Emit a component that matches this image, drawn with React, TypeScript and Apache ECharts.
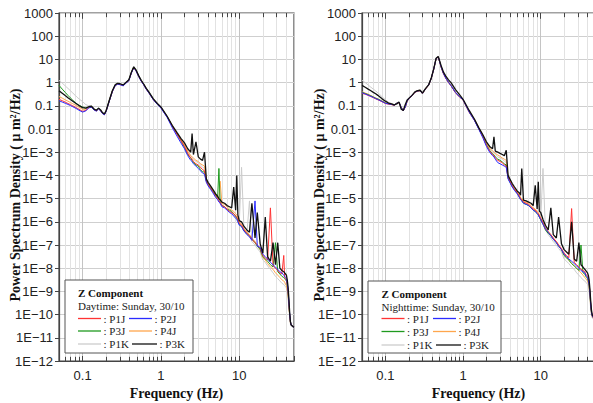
import React, { useEffect, useRef } from "react";
import * as echarts from "echarts";

// Frequencies (Hz), shared by every spectrum
const FREQ = [
  0.05, 0.055, 0.06, 0.065, 0.07, 0.075, 0.08, 0.085, 0.09, 0.1,
  0.11, 0.12, 0.13, 0.14, 0.15, 0.16, 0.17, 0.18, 0.19, 0.2,
  0.22, 0.24, 0.26, 0.28, 0.3, 0.33, 0.36, 0.39, 0.42, 0.45,
  0.48, 0.52, 0.56, 0.6, 0.65, 0.7, 0.8, 0.9, 1.0, 1.2,
  1.4, 1.6, 1.8, 2.0, 2.2, 2.4, 2.5, 2.6, 2.8, 3.0,
  3.2, 3.4, 3.6, 3.8, 4.0, 4.3, 4.6, 5.0, 5.3, 5.5,
  5.7, 6.0, 6.5, 7.0, 7.5, 8.0, 8.5, 9.0, 9.3, 9.6,
  10, 10.7, 11.5, 12.5, 13.5, 14.5, 15.9, 17, 18.5, 20,
  21.5, 23, 25, 27, 29, 31, 33, 35, 37, 38,
  39, 40, 41, 42, 43, 44, 45, 46, 48, 50,
];

// PSD values, as log10 of (um^2/Hz) -- Daytime
const DAY_P1J = [
  -0.72, -0.78, -0.84, -0.90, -0.95, -1.00, -1.05, -1.10, -1.15, -1.24,
  -1.20, -1.08, -1.05, -1.17, -1.22, -1.13, -1.21, -1.33, -1.38, -1.23,
  -0.78, -0.38, -0.13, -0.06, -0.08, -0.13, -0.01, 0.09, 0.42, 0.65,
  0.52, 0.27, 0.07, -0.08, -0.28, -0.43, -0.73, -0.93, -1.08, -1.48,
  -1.90, -2.22, -2.50, -2.75, -3.05, -3.25, -3.30, -3.40, -3.50, -3.55,
  -3.65, -3.75, -3.80, -4.25, -4.40, -4.55, -4.70, -4.90, -5.00, -5.10,
  -5.15, -5.30, -5.35, -5.45, -5.55, -5.60, -5.65, -5.75, -5.80, -5.90,
  -6.05, -6.15, -6.35, -6.50, -6.60, -6.75, -6.90, -7.00, -7.15, -7.45,
  -7.55, -7.65, -5.40, -7.90, -8.00, -8.10, -8.20, -8.25, -7.45, -8.40,
  -8.45, -8.50, -8.70, -9.00, -9.50, -10.00, -10.30, -10.45, -10.50, -10.55,
];
const DAY_P2J = [
  -0.78, -0.84, -0.89, -0.94, -0.99, -1.04, -1.09, -1.14, -1.19, -1.27,
  -1.22, -1.09, -1.06, -1.18, -1.23, -1.14, -1.22, -1.34, -1.39, -1.24,
  -0.79, -0.39, -0.14, -0.07, -0.09, -0.14, -0.02, 0.08, 0.41, 0.64,
  0.51, 0.26, 0.06, -0.09, -0.29, -0.44, -0.74, -0.94, -1.10, -1.50,
  -1.95, -2.30, -2.60, -2.85, -3.15, -3.35, -3.40, -3.50, -3.60, -3.70,
  -3.80, -3.90, -3.95, -4.30, -4.45, -4.60, -4.75, -4.95, -5.05, -5.15,
  -5.20, -5.35, -5.40, -5.50, -5.60, -5.65, -5.75, -5.85, -5.90, -6.00,
  -6.15, -6.20, -6.40, -6.55, -6.65, -6.80, -5.10, -7.05, -7.10, -7.40,
  -7.50, -7.60, -7.75, -7.85, -7.95, -8.05, -8.15, -8.20, -8.30, -8.35,
  -8.40, -8.45, -8.65, -8.95, -9.45, -9.95, -10.30, -10.45, -10.50, -10.55,
];
const DAY_P3J = [
  -0.12, -0.28, -0.42, -0.55, -0.66, -0.76, -0.85, -0.92, -0.98, -1.05,
  -1.10, -1.05, -1.03, -1.15, -1.20, -1.11, -1.19, -1.31, -1.36, -1.21,
  -0.76, -0.36, -0.11, -0.04, -0.06, -0.11, 0.01, 0.11, 0.44, 0.67,
  0.54, 0.29, 0.09, -0.06, -0.26, -0.41, -0.71, -0.91, -1.06, -1.46,
  -1.88, -2.20, -2.50, -2.80, -3.10, -3.25, -3.35, -3.45, -3.55, -3.60,
  -3.75, -3.85, -3.85, -4.25, -4.40, -4.55, -4.70, -4.85, -4.95, -3.70,
  -5.15, -5.30, -5.35, -5.45, -5.50, -5.55, -5.65, -5.75, -5.85, -5.95,
  -6.10, -6.20, -6.40, -6.50, -6.60, -6.75, -6.90, -7.05, -7.20, -7.50,
  -7.60, -7.70, -7.85, -7.95, -6.90, -8.15, -8.25, -8.35, -8.40, -8.45,
  -8.50, -8.55, -8.75, -9.05, -9.55, -10.00, -10.30, -10.45, -10.50, -10.55,
];
const DAY_P4J = [
  -0.60, -0.67, -0.74, -0.80, -0.86, -0.91, -0.96, -1.01, -1.06, -1.15,
  -1.15, -1.06, -1.04, -1.16, -1.21, -1.12, -1.20, -1.32, -1.37, -1.22,
  -0.77, -0.37, -0.12, -0.05, -0.07, -0.12, 0.00, 0.10, 0.43, 0.66,
  0.53, 0.28, 0.08, -0.07, -0.27, -0.42, -0.72, -0.92, -1.07, -1.47,
  -1.86, -2.18, -2.45, -2.68, -2.95, -3.15, -3.20, -3.25, -3.35, -3.40,
  -3.50, -3.55, -3.60, -4.20, -4.35, -4.50, -4.65, -4.85, -4.95, -5.05,
  -4.25, -5.20, -5.25, -5.35, -5.45, -5.50, -5.55, -5.65, -5.70, -5.80,
  -6.00, -6.10, -6.30, -6.45, -6.55, -6.70, -6.85, -7.00, -7.20, -7.55,
  -7.65, -7.80, -7.95, -8.05, -8.20, -8.30, -8.40, -8.50, -8.55, -8.60,
  -8.70, -8.75, -8.95, -9.20, -9.60, -10.05, -10.35, -10.45, -10.50, -10.55,
];
const DAY_P1K = [
  0.10, -0.02, -0.14, -0.25, -0.35, -0.45, -0.54, -0.63, -0.70, -0.82,
  -0.95, -1.00, -1.00, -1.13, -1.18, -1.09, -1.17, -1.29, -1.34, -1.19,
  -0.74, -0.34, -0.09, -0.02, -0.04, -0.09, 0.03, 0.13, 0.46, 0.69,
  0.56, 0.31, 0.11, -0.04, -0.24, -0.39, -0.69, -0.89, -1.04, -1.44,
  -1.87, -2.20, -2.45, -2.70, -3.00, -3.15, -3.25, -3.30, -3.40, -3.45,
  -3.55, -3.65, -3.70, -4.25, -4.40, -4.55, -4.70, -4.90, -5.00, -5.10,
  -5.15, -5.30, -5.35, -5.45, -5.55, -5.60, -5.70, -5.80, -5.85, -5.95,
  -6.10, -3.65, -6.35, -6.55, -5.10, -6.85, -7.00, -7.15, -7.30, -7.65,
  -7.75, -7.90, -8.05, -8.20, -8.35, -8.45, -8.55, -8.65, -8.70, -8.75,
  -8.80, -8.85, -9.05, -9.30, -9.70, -10.10, -10.40, -10.50, -10.55, -10.60,
];
const DAY_P3K = [
  -0.35, -0.46, -0.56, -0.65, -0.73, -0.80, -0.87, -0.93, -0.99, -1.08,
  -1.10, -1.04, -1.02, -1.14, -1.19, -1.10, -1.18, -1.30, -1.35, -1.20,
  -0.75, -0.35, -0.10, -0.03, -0.05, -0.10, 0.02, 0.12, 0.45, 0.68,
  0.55, 0.30, 0.10, -0.05, -0.25, -0.40, -0.70, -0.90, -1.05, -1.45,
  -1.85, -2.15, -2.40, -2.60, -2.85, -3.00, -2.20, -3.10, -2.55, -3.20,
  -3.30, -3.35, -3.00, -4.15, -4.30, -4.45, -4.60, -4.80, -4.90, -5.00,
  -5.05, -5.15, -5.20, -5.30, -5.35, -5.40, -4.50, -5.50, -4.00, -5.70,
  -5.95, -6.00, -6.20, -6.35, -6.45, -5.20, -6.70, -5.60, -6.95, -7.35,
  -5.80, -7.50, -7.70, -6.90, -7.85, -6.90, -8.00, -8.10, -8.15, -8.20,
  -8.25, -8.30, -8.50, -8.80, -9.30, -9.90, -10.30, -10.45, -10.50, -10.55,
];

// PSD values, as log10 of (um^2/Hz) -- Nighttime
const NIGHT_P1J = [
  -0.46, -0.50, -0.55, -0.60, -0.65, -0.70, -0.74, -0.78, -0.82, -0.90,
  -0.93, -0.95, -0.98, -0.90, -0.86, -1.08, -1.22, -1.07, -0.82, -0.70,
  -0.57, -0.42, -0.37, -0.35, -0.47, -0.27, -0.12, 0.18, 0.58, 1.03,
  1.10, 0.68, 0.38, 0.18, 0.00, -0.14, -0.44, -0.62, -0.75, -1.28,
  -1.62, -2.00, -2.35, -2.70, -2.95, -3.10, -3.15, -3.25, -3.35, -3.40,
  -3.45, -3.55, -3.60, -4.10, -4.25, -4.45, -4.60, -4.75, -4.90, -5.00,
  -5.05, -5.15, -5.20, -5.25, -5.35, -5.45, -5.50, -5.60, -5.65, -5.75,
  -5.85, -6.05, -6.30, -6.45, -6.55, -6.70, -6.85, -7.00, -7.15, -7.35,
  -7.45, -7.55, -5.43, -7.75, -7.85, -7.95, -8.05, -8.10, -8.15, -8.25,
  -8.30, -8.35, -8.45, -8.65, -9.00, -9.50, -9.85, -10.05, -10.15, -10.20,
];
const NIGHT_P2J = [
  -0.44, -0.49, -0.54, -0.59, -0.64, -0.69, -0.73, -0.77, -0.81, -0.89,
  -0.92, -0.94, -0.97, -0.89, -0.85, -1.07, -1.21, -1.06, -0.81, -0.69,
  -0.56, -0.41, -0.36, -0.34, -0.46, -0.26, -0.11, 0.19, 0.59, 1.04,
  1.11, 0.69, 0.39, 0.19, 0.01, -0.13, -0.43, -0.61, -0.74, -1.27,
  -1.63, -2.02, -2.38, -2.75, -3.00, -3.15, -3.20, -3.30, -3.45, -3.50,
  -3.55, -3.60, -3.65, -4.15, -4.30, -4.50, -4.65, -4.80, -4.95, -5.05,
  -5.10, -5.20, -5.25, -5.30, -5.40, -5.50, -5.55, -5.65, -5.70, -5.80,
  -5.90, -6.10, -6.30, -6.45, -6.60, -6.75, -6.90, -7.05, -7.20, -7.40,
  -7.50, -7.60, -7.70, -7.80, -7.90, -8.00, -8.10, -8.15, -8.20, -8.30,
  -8.35, -8.40, -8.50, -8.70, -9.05, -9.55, -9.90, -10.05, -10.15, -10.20,
];
const NIGHT_P3J = [
  -0.42, -0.47, -0.52, -0.57, -0.62, -0.67, -0.71, -0.75, -0.80, -0.88,
  -0.91, -0.94, -0.97, -0.89, -0.85, -1.07, -1.21, -1.06, -0.81, -0.69,
  -0.56, -0.41, -0.36, -0.34, -0.46, -0.26, -0.11, 0.19, 0.59, 1.04,
  1.11, 0.69, 0.39, 0.19, 0.01, -0.13, -0.43, -0.61, -0.74, -1.27,
  -1.61, -2.00, -2.33, -2.68, -2.92, -3.08, -3.12, -3.20, -3.30, -3.35,
  -3.42, -3.50, -3.55, -4.12, -4.28, -4.48, -4.62, -4.78, -4.92, -5.02,
  -5.08, -5.20, -5.25, -5.30, -5.40, -5.50, -5.55, -5.65, -5.70, -5.80,
  -5.92, -6.10, -6.35, -6.50, -6.60, -6.75, -6.90, -7.05, -7.20, -7.45,
  -7.55, -7.65, -7.80, -7.90, -8.00, -8.10, -7.00, -8.20, -8.25, -8.35,
  -8.40, -8.45, -8.55, -8.75, -9.10, -9.60, -9.90, -10.05, -10.15, -10.20,
];
const NIGHT_P4J = [
  -0.40, -0.45, -0.50, -0.56, -0.61, -0.66, -0.70, -0.75, -0.79, -0.87,
  -0.91, -0.93, -0.96, -0.88, -0.85, -1.06, -1.20, -1.05, -0.80, -0.68,
  -0.55, -0.40, -0.35, -0.33, -0.45, -0.25, -0.10, 0.20, 0.60, 1.05,
  1.12, 0.70, 0.40, 0.20, 0.02, -0.12, -0.42, -0.60, -0.73, -1.26,
  -1.58, -1.96, -2.28, -2.60, -2.82, -2.95, -3.00, -3.05, -3.12, -3.18,
  -3.25, -3.30, -3.35, -4.05, -4.20, -4.40, -4.55, -4.70, -4.85, -4.95,
  -5.00, -5.10, -5.15, -5.20, -5.30, -5.40, -5.45, -5.55, -5.60, -5.70,
  -5.85, -6.00, -6.25, -6.40, -6.55, -6.70, -6.85, -7.00, -7.20, -7.45,
  -7.55, -7.65, -7.80, -7.90, -8.00, -8.10, -8.20, -8.30, -8.40, -8.45,
  -8.50, -8.55, -8.65, -8.85, -9.20, -9.65, -9.95, -10.10, -10.15, -10.20,
];
const NIGHT_P1K = [
  0.10, 0.00, -0.10, -0.20, -0.28, -0.36, -0.44, -0.52, -0.60, -0.74,
  -0.85, -0.90, -0.95, -0.87, -0.83, -1.04, -1.19, -1.04, -0.79, -0.67,
  -0.54, -0.39, -0.34, -0.32, -0.44, -0.24, -0.09, 0.21, 0.61, 1.06,
  1.13, 0.71, 0.41, 0.21, 0.03, -0.11, -0.41, -0.59, -0.72, -1.25,
  -1.60, -1.98, -2.30, -2.62, -2.85, -3.00, -3.05, -3.10, -3.20, -3.25,
  -3.30, -3.38, -3.45, -4.10, -4.25, -4.45, -4.60, -4.75, -4.90, -5.00,
  -5.05, -5.15, -5.20, -5.25, -5.35, -5.45, -5.50, -5.60, -5.65, -5.75,
  -5.90, -3.70, -6.35, -6.55, -6.70, -6.85, -7.00, -7.15, -7.30, -7.60,
  -7.70, -7.80, -7.95, -8.05, -8.20, -8.30, -8.40, -8.50, -8.55, -8.60,
  -8.65, -8.70, -8.80, -9.00, -9.35, -9.75, -10.00, -10.15, -10.20, -10.25,
];
const NIGHT_P3K = [
  -0.12, -0.20, -0.28, -0.35, -0.42, -0.48, -0.55, -0.62, -0.69, -0.80,
  -0.88, -0.92, -0.96, -0.92, -0.84, -1.15, -1.20, -0.95, -0.76, -0.68,
  -0.55, -0.40, -0.35, -0.33, -0.45, -0.25, -0.10, 0.20, 0.60, 1.05,
  1.12, 0.75, 0.45, 0.28, 0.12, 0.00, -0.30, -0.52, -0.72, -1.20,
  -1.57, -1.95, -2.25, -2.55, -2.75, -2.85, -2.34, -2.95, -3.00, -3.05,
  -3.10, -3.15, -2.92, -4.00, -4.15, -4.35, -4.50, -4.68, -4.75, -4.85,
  -3.70, -5.07, -5.10, -5.15, -5.20, -5.30, -4.43, -5.45, -4.28, -5.55,
  -5.60, -5.90, -6.15, -6.35, -5.40, -6.55, -6.70, -5.80, -6.95, -7.20,
  -7.30, -7.40, -6.00, -7.60, -7.70, -6.90, -7.85, -7.95, -8.05, -8.10,
  -8.15, -8.20, -8.30, -8.50, -8.90, -9.40, -9.80, -10.00, -10.10, -10.20,
];

const SERIES_NAMES = ["P1J", "P2J", "P3J", "P4J", "P1K", "P3K"];
const SERIES_COLORS = ["#ff3333", "#2b2bff", "#1f9a1f", "#ffa64d", "#cccccc", "#111111"];
const DAY_SERIES = [DAY_P1J, DAY_P2J, DAY_P3J, DAY_P4J, DAY_P1K, DAY_P3K];
const NIGHT_SERIES = [NIGHT_P1J, NIGHT_P2J, NIGHT_P3J, NIGHT_P4J, NIGHT_P1K, NIGHT_P3K];
const DRAW_ORDER = [4, 3, 2, 0, 1, 5];

const MINOR_FREQ = [0.06, 0.07, 0.08, 0.09, 0.2, 0.3, 0.4, 0.5, 0.6, 0.7, 0.8, 0.9, 2, 3, 4, 5, 6, 7, 8, 9, 20, 30, 40];
const MAJOR_FREQ = [0.1, 1, 10];
const X_TICK_LABELS = ["0.1", "1", "10"]; // decades -1, 0, 1
const Y_TICK_LABELS = [
  "1E\u221212", "1E\u221211", "1E\u221210", "1E\u22129", "1E\u22128", "1E\u22127", "1E\u22126", "1E\u22125",
  "1E\u22124", "1E\u22123", "0.01", "0.1", "1", "10", "100", "1000",
]; // decades -12 .. 3
const PANEL_TITLE = "Z Component";
const PANEL_SUBTITLES = ["Daytime: Sunday, 30/10", "Nighttime: Sunday, 30/10"];
const X_NAME = "Frequency (Hz)";
const Y_NAME = "Power Spectrum Density ( \u03bc m\u00b2/Hz)";

const FRAME = "#444444";
const SERIF = "'Liberation Serif', 'Times New Roman', serif";
const SANS = "'Liberation Sans', Arial, sans-serif";

const PANELS = [
  { left: 59, width: 235, titleX: 15, legend: { x: 65, y: 280, w: 128, h: 73, tx: 78, c2: 129, c2b: 132, rowY: [318.5, 331, 344] } },
  { left: 362, width: 233, titleX: 319, legend: { x: 368, y: 281, w: 133, h: 72, tx: 381.5, c2: 433, c2b: 436, rowY: [318.5, 331.5, 345] } },
];

function xLabel(v: number) {
  const e = Math.log10(v);
  const r = Math.round(e);
  if (Math.abs(e - r) > 1e-6) return "";
  return X_TICK_LABELS[r + 1] ?? "";
}
function yLabel(v: number) {
  const e = Math.log10(v);
  const r = Math.round(e);
  if (Math.abs(e - r) > 1e-6) return "";
  return Y_TICK_LABELS[r + 12] ?? "";
}

function buildOption() {
  const grid: any[] = [];
  const xAxis: any[] = [];
  const yAxis: any[] = [];
  const series: any[] = [];
  const graphic: any[] = [];

  PANELS.forEach((p, pi) => {
    grid.push({
      left: p.left, top: 13, width: p.width, height: 348,
      show: true, borderColor: FRAME, borderWidth: 1.2, backgroundColor: "transparent",
      containLabel: false, outerBoundsMode: "none",
    });
    xAxis.push({
      type: "log", gridIndex: pi, min: 0.05, max: 50, logBase: 10,
      axisLine: { show: true, lineStyle: { color: FRAME, width: 1.2 } },
      axisTick: { show: true, inside: true, length: 5, lineStyle: { color: FRAME } },
      axisLabel: { formatter: xLabel, fontFamily: SANS, fontSize: 13, color: "#222", margin: 8 },
      splitLine: { show: true, lineStyle: { color: "#c4c4c4", width: 1 } },
      name: X_NAME, nameLocation: "middle", nameGap: 25,
      nameTextStyle: { fontFamily: SERIF, fontWeight: "bold", fontSize: 14, color: "#111" },
    });
    yAxis.push({
      type: "log", gridIndex: pi, min: 1e-12, max: 1000, logBase: 10, interval: 1, splitNumber: 15,
      axisLine: { show: true, lineStyle: { color: FRAME, width: 1.2 } },
      axisTick: { show: true, inside: false, length: 4, lineStyle: { color: FRAME } },
      axisLabel: { formatter: yLabel, fontFamily: SANS, fontSize: 13, color: "#222", margin: 6 },
      splitLine: { show: true, lineStyle: { color: "#cfcfcf", width: 1 } },
    });

    // minor grid lines (2..9 of each decade)
    series.push({
      type: "line", xAxisIndex: pi, yAxisIndex: pi, data: [], silent: true, z: 1,
      markLine: {
        z: 1, silent: true, symbol: ["none", "none"], label: { show: false },
        emphasis: { disabled: true },
        lineStyle: { color: "#e2e2e2", width: 1, type: "solid" },
        data: MINOR_FREQ.map((f) => ({ xAxis: f })),
      },
    });
    // minor/major ticks on bottom and top frame
    const tickSegs: any[] = [];
    MINOR_FREQ.forEach((f) => {
      tickSegs.push([{ coord: [f, 1e-12] }, { coord: [f, Math.pow(10, -11.82)] }]);
      tickSegs.push([{ coord: [f, 1000] }, { coord: [f, Math.pow(10, 2.82)] }]);
    });
    MAJOR_FREQ.forEach((f) => {
      tickSegs.push([{ coord: [f, 1000] }, { coord: [f, Math.pow(10, 2.75)] }]);
    });
    series.push({
      type: "line", xAxisIndex: pi, yAxisIndex: pi, data: [], silent: true, z: 20,
      markLine: {
        z: 20, silent: true, symbol: ["none", "none"], label: { show: false },
        emphasis: { disabled: true },
        lineStyle: { color: FRAME, width: 1, type: "solid" },
        data: tickSegs,
      },
    });

    const sets = pi === 0 ? DAY_SERIES : NIGHT_SERIES;
    DRAW_ORDER.forEach((si, k) => {
      const logs = sets[si];
      series.push({
        type: "line", name: SERIES_NAMES[si], xAxisIndex: pi, yAxisIndex: pi,
        data: FREQ.map((f, i) => [f, Math.pow(10, logs[i])]),
        showSymbol: false, symbol: "none", silent: true, z: 3 + k,
        emphasis: { disabled: true },
        lineStyle: { color: SERIES_COLORS[si], width: si === 5 ? 1.3 : 1 },
        itemStyle: { color: SERIES_COLORS[si] },
      });
    });

    // y-axis title
    graphic.push({
      type: "text", x: p.titleX, y: 195, rotation: Math.PI / 2, z: 50,
      style: {
        text: Y_NAME,
        align: "center", verticalAlign: "middle",
        fontFamily: SERIF, fontWeight: "bold", fontSize: 14, fill: "#111",
      },
    });

    // legend box
    const L = p.legend;
    graphic.push({
      type: "rect", z: 60,
      shape: { x: L.x, y: L.y, width: L.w, height: L.h },
      style: { fill: "#ffffff", stroke: "#555555", lineWidth: 1 },
    });
    graphic.push({
      type: "text", z: 61, x: L.tx, y: L.y + 13,
      style: { text: PANEL_TITLE, fontFamily: SERIF, fontWeight: "bold", fontSize: 11, fill: "#111", verticalAlign: "middle" },
    });
    graphic.push({
      type: "text", z: 61, x: L.tx, y: L.y + 26,
      style: { text: PANEL_SUBTITLES[pi], fontFamily: SERIF, fontSize: 11, fill: "#222", verticalAlign: "middle" },
    });
    for (let row = 0; row < 3; row++) {
      for (let col = 0; col < 2; col++) {
        const si = row * 2 + col;
        const y = L.rowY[row];
        const x0 = col === 0 ? L.tx : (row === 2 ? L.c2b : L.c2);
        const len = row === 2 && col === 1 ? 25 : 23;
        graphic.push({
          type: "line", z: 61,
          shape: { x1: x0, y1: y, x2: x0 + len, y2: y },
          style: { stroke: SERIES_COLORS[si], lineWidth: 1.3 },
        });
        graphic.push({
          type: "text", z: 61, x: x0 + len + 2.5, y,
          style: { text: ": " + SERIES_NAMES[si], fontFamily: SERIF, fontSize: 11, fill: "#222", verticalAlign: "middle" },
        });
      }
    }
  });

  return { animation: false, backgroundColor: "#ffffff", grid, xAxis, yAxis, series, graphic };
}

export default function App() {
  const ref = useRef<HTMLDivElement>(null);
  useEffect(() => {
    if (!ref.current) return;
    const chart = echarts.init(ref.current, undefined, { renderer: "svg" });
    chart.setOption(buildOption() as any);
    return () => chart.dispose();
  }, []);
  return (
    <div
      ref={ref}
      style={{ position: "fixed", left: 0, top: 0, width: 593, height: 403, background: "#fff" }}
    />
  );
}
